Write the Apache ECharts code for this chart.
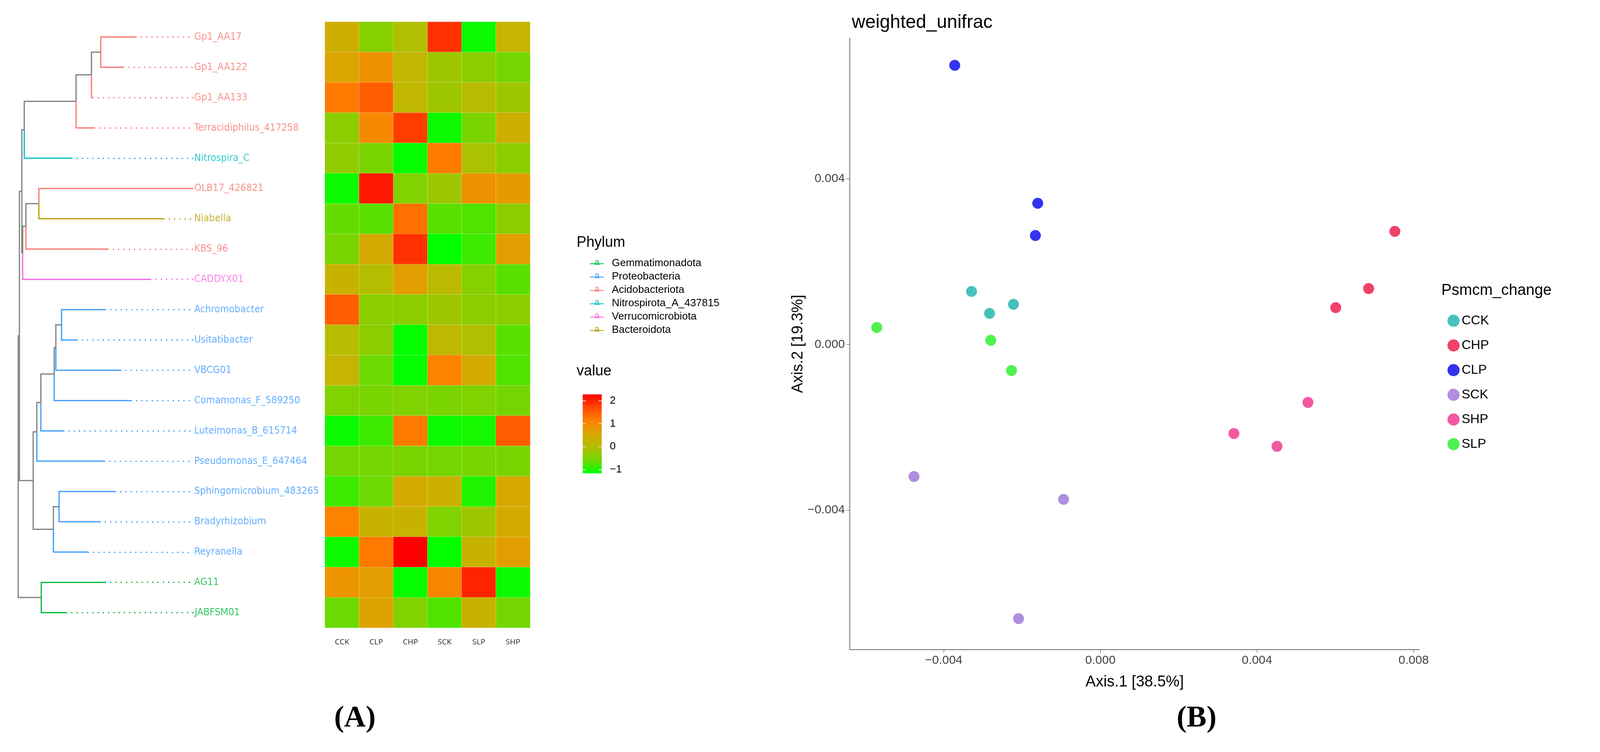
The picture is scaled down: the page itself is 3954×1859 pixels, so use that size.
<!DOCTYPE html>
<html><head><meta charset="utf-8">
<script src="https://cdn.jsdelivr.net/npm/echarts@6/dist/echarts.min.js"></script>
<style>html,body{margin:0;padding:0;background:#fff}#c{width:3954px;height:1859px}</style>
</head><body><div id="c"></div>
<script>
// ---------- DATA ----------
const leaves = ['Gp1_AA17','Gp1_AA122','Gp1_AA133','Terracidiphilus_417258','Nitrospira_C','OLB17_426821','Niabella','KBS_96','CADDYX01','Achromobacter','Usitatibacter','VBCG01','Comamonas_F_589250','Luteimonas_B_615714','Pseudomonas_E_647464','Sphingomicrobium_483265','Bradyrhizobium','Reyranella','AG11','JABFSM01'];
const leafPhylum = ['Acidobacteriota','Acidobacteriota','Acidobacteriota','Acidobacteriota','Nitrospirota_A_437815','Acidobacteriota','Bacteroidota','Acidobacteriota','Verrucomicrobiota','Proteobacteria','Proteobacteria','Proteobacteria','Proteobacteria','Proteobacteria','Proteobacteria','Proteobacteria','Proteobacteria','Proteobacteria','Gemmatimonadota','Gemmatimonadota'];
const leafDepth = [335,304,228,232,176,478,404,266,371,259,189,297,323,156,257,284,246,217,259,163];
const tree = [45,
  [48,
    [54,
      [60, [188, [226, [249, 0, 1], 2], 3], 4],
      [56, [64, [96, 5, 6], 7], 8]
    ],
    [82,
      [91, [101, [134, [138, [152, 9, 10], 11], 12], 13], 14],
      [132, [146, 15, 16], 17]
    ]
  ],
  [102, 18, 19]
];
const phylumNames = ['Gemmatimonadota','Proteobacteria','Acidobacteriota','Nitrospirota_A_437815','Verrucomicrobiota','Bacteroidota'];
const phylumColors = ['#00BA38','#3D9BFF','#F8766D','#00BFC4','#F564E3','#B79F00'];
const samples = ['CCK','CLP','CHP','SCK','SLP','SHP'];
const heat = [
  [0.4,-0.4,-0.05,1.9,-1.1,0.25],
  [0.6,0.9,0.2,-0.2,-0.35,-0.55],
  [1.2,1.5,0.2,-0.2,0.05,-0.2],
  [-0.35,1.0,1.8,-1.1,-0.5,0.4],
  [-0.3,-0.5,-1.15,1.2,-0.1,-0.35],
  [-1.1,2.1,-0.45,-0.2,0.9,0.75],
  [-0.65,-0.7,1.3,-0.7,-0.75,-0.35],
  [-0.5,0.5,1.9,-1.15,-0.85,0.7],
  [0.3,0.0,0.7,0.1,-0.4,-0.7],
  [1.5,-0.35,-0.35,-0.2,-0.35,-0.35],
  [0.05,-0.35,-1.15,0.15,-0.05,-0.7],
  [0.25,-0.6,-1.15,1.1,0.5,-0.75],
  [-0.45,-0.5,-0.45,-0.5,-0.45,-0.55],
  [-1.1,-0.85,1.2,-1.1,-1.05,1.5],
  [-0.55,-0.55,-0.5,-0.55,-0.5,-0.5],
  [-0.85,-0.6,0.5,0.35,-1.0,0.55],
  [1.1,0.3,0.3,-0.45,-0.2,0.5],
  [-1.1,1.2,2.3,-1.15,0.3,0.7],
  [0.85,0.7,-1.15,1.05,2.0,-1.1],
  [-0.6,0.65,-0.45,-0.75,0.3,-0.55]
];
const heatMin = -1.16, heatMax = 2.28;
const heatTicks = [2,1,0,-1];
const heatColors = ['#00FF00','#70D800','#B4BE00','#D8A800','#FF8000','#FF4A00','#FF0000'];
const groups = ['CCK','CHP','CLP','SCK','SHP','SLP'];
const groupColors = ['#1AB2AA','#EE1144','#0000EE','#9B72D8','#F0308A','#22EE22'];
const pcoa = {
  CCK: [[-0.00329,0.00128],[-0.00222,0.00097],[-0.00283,0.00075]],
  CHP: [[0.00752,0.00273],[0.00685,0.00135],[0.00601,0.00089]],
  CLP: [[-0.00372,0.00674],[-0.0016,0.00341],[-0.00166,0.00263]],
  SCK: [[-0.00476,-0.00319],[-0.00094,-0.00374],[-0.00209,-0.00662]],
  SHP: [[0.0053,-0.0014],[0.00341,-0.00215],[0.00451,-0.00246]],
  SLP: [[-0.00571,0.00041],[-0.0028,0.0001],[-0.00227,-0.00063]]
};
const xTicks = [-0.004,0,0.004,0.008];
const yTicks = [-0.004,0,0.004];

// ---------- TREE GEOMETRY ----------
const segs = [], dots = [], labelPts = [];
function colorOf(node){
  return typeof node==='number' ? phylumColors[phylumNames.indexOf(leafPhylum[node])] : '#808080';
}
function layout(n){
  if(typeof n==='number') return {x:leafDepth[n], y:n};
  const kids = n.slice(1).map(layout);
  const y = kids.reduce((a,k)=>a+k.y,0)/kids.length;
  n.slice(1).forEach((c,i)=>{
    segs.push({coords:[[n[0],y],[n[0],kids[i].y],[kids[i].x,kids[i].y]], lineStyle:{color:colorOf(c)}});
  });
  return {x:n[0], y:y};
}
layout(tree);
leaves.forEach((nm,i)=>{
  const col = phylumColors[phylumNames.indexOf(leafPhylum[i])];
  if(leafDepth[i] < 478) dots.push({coords:[[leafDepth[i],i],[478,i]], lineStyle:{color:col}});
  labelPts.push({value:[478,i], name:nm, label:{color:col}});
});

const heatData = [];
heat.forEach((r,i)=>r.forEach((v,j)=>heatData.push([j,i,v])));

// ---------- CHART ----------
const chart = echarts.init(document.getElementById('c'));
const fmt = v => (v<0?'\u2212':'') + Math.abs(v).toFixed(3);
const cb = {left:1440, top:975, w:47, h:195};
const graphics = [];
graphics.push({type:'text', left:1425, top:582, style:{text:'Phylum', font:'36px "Liberation Sans"', fill:'#000'}});
phylumNames.forEach((p,i)=>{
  const y = 652 + i*33;
  graphics.push({type:'line', shape:{x1:1458,y1:y,x2:1492,y2:y}, style:{stroke:phylumColors[i], lineWidth:2}});
  graphics.push({type:'text', x:1469, y:y-14, style:{text:'a', font:'22px "Liberation Sans"', fill:phylumColors[i]}});
  graphics.push({type:'text', x:1512, y:y-14, style:{text:p, font:'26px "Liberation Sans"', fill:'#000'}});
});
graphics.push({type:'text', left:1425, top:900, style:{text:'value', font:'36px "Liberation Sans"', fill:'#000'}});
graphics.push({type:'rect', shape:{x:cb.left,y:cb.top,width:cb.w,height:cb.h}, style:{fill:new echarts.graphic.LinearGradient(0,1,0,0, heatColors.map((c,i)=>({offset:i/(heatColors.length-1), color:c})))}});
heatTicks.forEach(t=>{
  const y = cb.top + (heatMax-t)/(heatMax-heatMin)*cb.h;
  graphics.push({type:'line', shape:{x1:cb.left,y1:y,x2:cb.left+8,y2:y}, style:{stroke:'#fff',lineWidth:1.5}});
  graphics.push({type:'line', shape:{x1:cb.left+cb.w-8,y1:y,x2:cb.left+cb.w,y2:y}, style:{stroke:'#fff',lineWidth:1.5}});
  graphics.push({type:'text', x:cb.left+cb.w+20, y:y-13, style:{text:(t<0?'\u2212':'')+Math.abs(t), font:'26px "Liberation Sans"', fill:'#000'}});
});
graphics.push({type:'text', x:3562, y:700, style:{text:'Psmcm_change', font:'38px "Liberation Sans"', fill:'#000'}});
graphics.push({type:'text', x:877, y:1740, style:{text:'(A)', font:'bold 74px "Liberation Serif"', fill:'#000', textAlign:'center'}});
graphics.push({type:'text', x:2957, y:1740, style:{text:'(B)', font:'bold 74px "Liberation Serif"', fill:'#000', textAlign:'center'}});

const scatterSeries = groups.map((g,i)=>({
  name:g, type:'scatter', xAxisIndex:2, yAxisIndex:2, data:pcoa[g], symbolSize:27,
  itemStyle:{color:groupColors[i]}
}));

chart.setOption({
  animation:false,
  textStyle:{fontFamily:'Liberation Sans'},
  title:{text:'weighted_unifrac', left:2100, top:28, textStyle:{fontSize:46, fontWeight:'normal', color:'#000'}},
  graphic:graphics,
  grid:[
    {left:40, width:438, top:54, height:1498},
    {left:803, width:507, top:54, height:1498},
    {left:2100, width:1408, top:94, height:1512}
  ],
  xAxis:[
    {gridIndex:0, type:'value', min:40, max:478, show:false},
    {gridIndex:1, type:'category', data:samples, axisLine:{show:false}, axisTick:{show:false},
     axisLabel:{fontSize:19, color:'#222', margin:26, fontFamily:'Open Sans'}},
    {gridIndex:2, type:'value', min:-0.0064, max:0.00815, name:'Axis.1 [38.5%]', nameLocation:'middle', nameGap:62,
     nameTextStyle:{fontSize:38, color:'#000'}, splitLine:{show:false},
     axisLine:{onZero:false, lineStyle:{color:'#444', width:1.5}},
     axisTick:{length:8, customValues:xTicks, lineStyle:{color:'#444'}},
     axisLabel:{customValues:xTicks, formatter:fmt, fontSize:30, color:'#444', margin:12}}
  ],
  yAxis:[
    {gridIndex:0, type:'value', min:-0.5, max:19.5, inverse:true, show:false},
    {gridIndex:1, type:'category', data:leaves, inverse:true, show:false},
    {gridIndex:2, type:'value', min:-0.00737, max:0.0074, name:'Axis.2 [19.3%]', nameLocation:'middle', nameGap:90,
     nameTextStyle:{fontSize:38, color:'#000'}, splitLine:{show:false},
     axisLine:{show:true, onZero:false, lineStyle:{color:'#444', width:1.5}},
     axisTick:{show:true, length:8, customValues:yTicks, lineStyle:{color:'#444'}},
     axisLabel:{customValues:yTicks, formatter:fmt, fontSize:30, color:'#444', margin:12}}
  ],
  visualMap:{show:false, type:'continuous', min:heatMin, max:heatMax, seriesIndex:3, inRange:{color:heatColors}},
  legend:{data:groups, orient:'vertical', left:3572, top:772, itemWidth:30, itemHeight:30, itemGap:29, icon:'circle',
    textStyle:{fontSize:32, color:'#000'}},
  series:[
    {type:'lines', coordinateSystem:'cartesian2d', xAxisIndex:0, yAxisIndex:0, polyline:true, data:segs,
     lineStyle:{width:3, opacity:1}, silent:true},
    {type:'lines', coordinateSystem:'cartesian2d', xAxisIndex:0, yAxisIndex:0, data:dots,
     lineStyle:{width:3, type:[3,10], opacity:1}, silent:true},
    {type:'scatter', xAxisIndex:0, yAxisIndex:0, data:labelPts, symbolSize:0,
     label:{show:true, position:'right', distance:2, formatter:p=>p.name, fontSize:25, fontFamily:'"DejaVu Sans Condensed", "Liberation Sans", sans-serif'}},
    {type:'heatmap', xAxisIndex:1, yAxisIndex:1, data:heatData, itemStyle:{borderColor:'rgba(255,255,255,0.35)', borderWidth:1}},
    ...scatterSeries
  ]
});
</script></body></html>
